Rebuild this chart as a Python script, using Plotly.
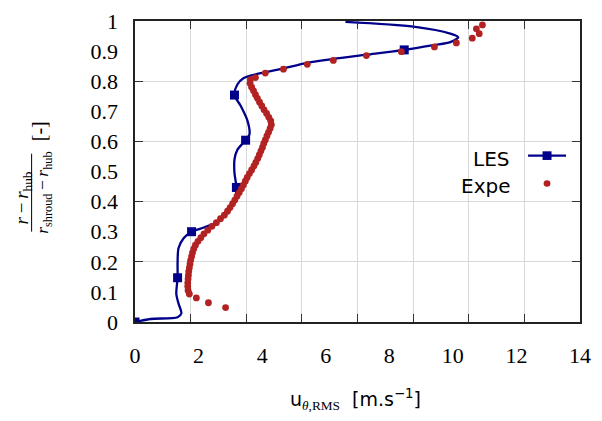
import plotly.graph_objects as go

# LES profile: tangential RMS velocity vs. normalised radius
les_u = [0.0, 0.49, 1.34, 1.46, 1.37, 1.30, 1.34, 1.34, 1.37, 1.53, 1.78, 2.06, 2.47,
         2.94, 3.16, 3.19, 3.13, 3.13, 3.22, 3.48, 3.60, 3.54, 3.32, 3.13, 3.22, 3.41,
         3.85, 4.58, 5.42, 6.24, 7.30, 8.47, 9.39, 9.92, 10.17, 9.92, 8.76, 6.62]
les_r = [0.0, 0.010, 0.016, 0.029, 0.061, 0.093, 0.147, 0.198, 0.246, 0.278, 0.300, 0.310,
         0.326, 0.367, 0.412, 0.447, 0.495, 0.540, 0.572, 0.604, 0.623, 0.668, 0.719, 0.754,
         0.789, 0.810, 0.824, 0.840, 0.861, 0.874, 0.888, 0.904, 0.920, 0.930, 0.946, 0.958,
         0.981, 0.997]

# LES points shown with square markers
les_mark_u = [0.0, 1.34, 1.78, 3.19, 3.48, 3.13, 8.47]
les_mark_r = [0.0, 0.147, 0.300, 0.447, 0.604, 0.754, 0.904]

# Experimental measurements
expe_u = [2.85, 2.31, 1.93, 1.71,
          1.67, 1.66, 1.66, 1.67, 1.68, 1.69, 1.71, 1.73, 1.75, 1.78, 1.81, 1.85, 1.90,
          1.98, 2.07, 2.17, 2.29, 2.42, 2.56, 2.69, 2.81, 2.91, 2.99, 3.07, 3.14, 3.21,
          3.28, 3.35, 3.41, 3.47, 3.53, 3.60, 3.67, 3.74, 3.80, 3.86, 3.91, 3.96, 4.01,
          4.05, 4.10, 4.15, 4.20, 4.25, 4.29, 4.27, 4.21, 4.14, 4.06, 3.99, 3.92, 3.85,
          3.79, 3.73, 3.67, 3.62, 3.63,
          3.79, 4.10, 4.67, 5.42, 6.24, 7.28, 8.38, 9.42, 10.11, 10.61, 10.83, 10.74, 10.93]
expe_r = [0.048, 0.064, 0.080, 0.093,
          0.105, 0.118, 0.130, 0.143, 0.155, 0.168, 0.180, 0.193, 0.205, 0.218, 0.230,
          0.243, 0.255, 0.268, 0.280, 0.293, 0.305, 0.318, 0.330, 0.343, 0.355, 0.368,
          0.380, 0.393, 0.405, 0.418, 0.430, 0.443, 0.455, 0.468, 0.480, 0.493, 0.505,
          0.518, 0.530, 0.543, 0.555, 0.568, 0.580, 0.593, 0.605, 0.618, 0.630, 0.643,
          0.655, 0.668, 0.680, 0.693, 0.705, 0.718, 0.730, 0.743, 0.755, 0.768, 0.780,
          0.793, 0.805,
          0.812, 0.827, 0.840, 0.856, 0.869, 0.885, 0.898, 0.914, 0.927, 0.943, 0.958,
          0.974, 0.987]

x_labels = [0, 2, 4, 6, 8, 10, 12, 14]
y_labels = [0, 0.1, 0.2, 0.3, 0.4, 0.5, 0.6, 0.7, 0.8, 0.9, 1]

NAVY = "#00008B"
RED = "#B22222"
GRID = "#d9d9d9"
SERIF = "Liberation Serif"
SANS = "DejaVu Sans"

W, H = 602, 421
L, R, T, B = 134.5, 580.0, 9.0, 322.0


def px(xp):
    return (xp - L) / (R - L)


def py(yp):
    return (B - yp) / (B - T)


fig = go.Figure()

# empty trace on the frame axes pair
fig.add_trace(go.Scatter(x=[], y=[], showlegend=False, hoverinfo="skip"))
fig.add_trace(go.Scatter(x=les_u, y=les_r, mode="lines", showlegend=False,
                         xaxis="x2", yaxis="y2",
                         line=dict(color=NAVY, width=2.3, shape="spline", smoothing=0.8)))
fig.add_trace(go.Scatter(x=les_mark_u, y=les_mark_r, mode="markers", showlegend=False,
                         xaxis="x2", yaxis="y2",
                         marker=dict(color=NAVY, symbol="square", size=9)))
fig.add_trace(go.Scatter(x=expe_u, y=expe_r, mode="markers", showlegend=False,
                         xaxis="x2", yaxis="y2",
                         marker=dict(color=RED, size=6.8)))

# frame axes carry the border, inner ticks and the grid
frame = dict(showticklabels=False, ticks="inside", ticklen=8, tickwidth=1.3,
             tickcolor="#333", showline=True, linewidth=1.6, linecolor="#222",
             mirror="ticks", showgrid=True, gridcolor=GRID, gridwidth=1,
             zeroline=False, fixedrange=True)

labels_ax = dict(ticks="", showgrid=False, zeroline=False, showline=False,
                 ticklabeloverflow="allow",
                 tickfont=dict(family=SERIF, size=22, color="black"))

fig.update_layout(
    width=W, height=H,
    margin=dict(l=L, r=W - R, t=T, b=H - B),
    paper_bgcolor="white", plot_bgcolor="white",
    showlegend=False,
    xaxis=dict(range=[0, 16], dtick=2, **frame),
    yaxis=dict(range=[0, 1], dtick=0.2, **frame),
    xaxis2=dict(overlaying="x", anchor="y2", side="bottom", range=[0, 14],
                tickvals=x_labels, ticktext=[str(v) for v in x_labels],
                ticklabelstandoff=18, **labels_ax),
    yaxis2=dict(overlaying="y", anchor="x2", side="left", range=[0, 1],
                tickvals=y_labels, ticktext=[f"{v:g}" for v in y_labels],
                ticklabelstandoff=16, **labels_ax),
)


def label(xp, yp, text, family, size, angle=0, xanchor="center"):
    return dict(xref="paper", yref="paper", x=px(xp), y=py(yp), showarrow=False,
                xanchor=xanchor, yanchor="middle", textangle=angle, text=text,
                font=dict(family=family, size=size, color="black"))


ann = [
    # x-axis title
    label(355, 403, f'u<sub><span style="font-family:{SERIF}"><i>θ</i>,RMS</span></sub>'
                    f'  [m.s<sup>−1</sup>]', SANS, 19),
    # y-axis title as a rotated fraction
    label(22, 193, "<i>r</i>\u2009−\u2009<i>r</i><sub>hub</sub>", SERIF, 19, -90),
    label(43, 188, "<i>r</i><sub>shroud</sub>\u2009−\u2009<i>r</i><sub>hub</sub>",
          SERIF, 17.5, -90),
    label(38, 124, "[-]", SERIF, 20, -90),
    # legend labels
    label(511, 152, "LES", SANS, 20, xanchor="right"),
    label(512, 181, "Expe", SANS, 20, xanchor="right"),
]
fig.update_layout(annotations=ann)

shapes = [
    # fraction bar
    dict(type="line", xref="paper", yref="paper", x0=px(31), x1=px(31),
         y0=py(147), y1=py(228), line=dict(color="black", width=1)),
    # legend keys
    dict(type="line", xref="paper", yref="paper", x0=px(528), x1=px(566),
         y0=py(149), y1=py(149), line=dict(color=NAVY, width=2.3)),
    dict(type="rect", xref="paper", yref="paper", x0=px(542.5), x1=px(551.5),
         y0=py(144.5), y1=py(153.5), fillcolor=NAVY, line=dict(width=0)),
    dict(type="circle", xref="paper", yref="paper", x0=px(543.6), x1=px(550.4),
         y0=py(174.6), y1=py(181.4), fillcolor=RED, line=dict(width=0)),
]
fig.update_layout(shapes=shapes)

fig.write_html("out.html")
